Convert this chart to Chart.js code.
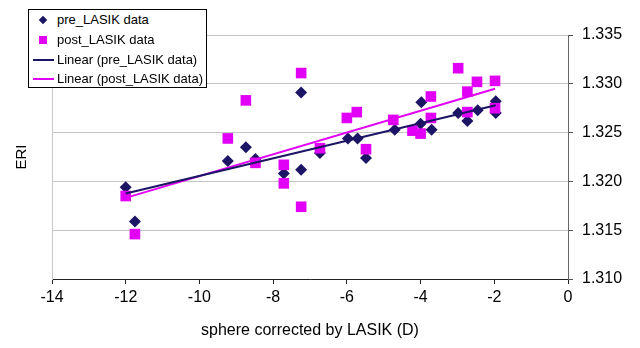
<!DOCTYPE html>
<html>
<head>
<meta charset="utf-8">
<script src="https://cdn.jsdelivr.net/npm/chart.js@4/dist/chart.umd.min.js"></script>
<style>
  body { margin: 0; background: #fff; }
  #wrap { position: relative; width: 640px; height: 348px; }
  #legend {
    position: absolute; left: 28px; top: 9px; width: 177px; height: 77px;
    border: 1px solid #000; background: #fff;
    font-family: "Liberation Sans", Arial, sans-serif; font-size: 13px; color: #000;
  }
  .row { position: absolute; left: 0; height: 20px; line-height: 20px; }
  .row span { position: absolute; left: 28px; white-space: nowrap; }
  .sym { position: absolute; }
</style>
</head>
<body>
<div id="wrap">
  <canvas id="chart" width="640" height="348"></canvas>
  <div id="legend">
    <div class="row" style="top:0px"><div class="sym" style="left:11px;top:7px;width:6px;height:6px;background:#1c1464;transform:rotate(45deg)"></div><span>pre_LASIK data</span></div>
    <div class="row" style="top:20px"><div class="sym" style="left:10px;top:6px;width:8px;height:8px;background:#e100f5"></div><span>post_LASIK data</span></div>
    <div class="row" style="top:40px"><div class="sym" style="left:4px;top:9px;width:21px;height:2px;background:#1c1464"></div><span>Linear (pre_LASIK data)</span></div>
    <div class="row" style="top:59px"><div class="sym" style="left:4px;top:9px;width:21px;height:2px;background:#e100f5"></div><span>Linear (post_LASIK data)</span></div>
  </div>
</div>
<script>
const NAVY = '#1c1464';
const MAGENTA = '#e100f5';

const preX = [-12.0, -11.75, -9.23, -8.74, -8.48, -7.71, -7.24, -7.24, -6.73, -5.97, -5.71,
  -5.48, -4.70, -4.0, -3.98, -3.70, -2.98, -2.73, -2.45, -1.96, -1.96];
const preY = [1.3194, 1.3159, 1.3221, 1.3235, 1.3223, 1.3208, 1.3291, 1.3212, 1.3229, 1.3244, 1.3244,
  1.3224, 1.3253, 1.3259, 1.3281, 1.3253, 1.3270, 1.3262, 1.3273, 1.3282, 1.3270];

const postX = [-12.0, -11.75, -9.23, -8.74, -8.48, -7.71, -7.71, -7.24, -7.24, -6.73, -6.0, -5.73,
  -5.48, -4.74, -4.22, -4.0, -3.72, -3.72, -2.98, -2.73, -2.73, -2.47, -1.98, -1.98];
const postY = [1.3185, 1.3146, 1.3244, 1.3283, 1.3219, 1.3217, 1.3198, 1.3311, 1.3174, 1.3234, 1.3265, 1.3271,
  1.3233, 1.3263, 1.3252, 1.3249, 1.3287, 1.3265, 1.3316, 1.3292, 1.3271, 1.3302, 1.3303, 1.3275];

const xTicks = [-14, -12, -10, -8, -6, -4, -2, 0];
const yTicks = [1.310, 1.315, 1.320, 1.325, 1.330, 1.335];

function points(xs, ys) {
  return xs.map((x, i) => ({ x, y: ys[i] }));
}

// least squares fit, drawn over the data's x range like Excel's trendline
function trend(xs, ys) {
  const n = xs.length;
  const mx = xs.reduce((a, b) => a + b, 0) / n;
  const my = ys.reduce((a, b) => a + b, 0) / n;
  let sxy = 0, sxx = 0;
  xs.forEach((x, i) => { sxy += (x - mx) * (ys[i] - my); sxx += (x - mx) * (x - mx); });
  const b = sxy / sxx;
  const a = my - b * mx;
  const x0 = Math.min(...xs), x1 = Math.max(...xs);
  return [{ x: x0, y: a + b * x0 }, { x: x1, y: a + b * x1 }];
}

const font = { family: '"Liberation Sans", Arial, sans-serif', size: 16 };

new Chart(document.getElementById('chart'), {
  type: 'scatter',
  data: {
    datasets: [
      { label: 'Linear (pre_LASIK data)', data: trend(preX, preY), showLine: true, borderColor: NAVY,
        borderWidth: 2, pointRadius: 0, yAxisID: 'y' },
      { label: 'Linear (post_LASIK data)', data: trend(postX, postY), showLine: true, borderColor: MAGENTA,
        borderWidth: 2, pointRadius: 0, yAxisID: 'y' },
      { label: 'post_LASIK data', data: points(postX, postY), pointStyle: 'rect', pointRadius: 7.5,
        backgroundColor: MAGENTA, borderColor: MAGENTA, borderWidth: 0, yAxisID: 'y' },
      { label: 'pre_LASIK data', data: points(preX, preY), pointStyle: 'rectRot', pointRadius: 6,
        backgroundColor: NAVY, borderColor: NAVY, borderWidth: 0, yAxisID: 'y' },
    ],
  },
  options: {
    responsive: false,
    animation: false,
    layout: { padding: { top: 35, left: 0, right: 0, bottom: 0 } },
    plugins: { legend: { display: false }, tooltip: { enabled: false } },
    scales: {
      x: {
        type: 'linear', min: -14, max: 0,
        afterBuildTicks: s => { s.ticks = xTicks.map(v => ({ value: v })); },
        ticks: { color: '#000', font, padding: 4, maxRotation: 0 },
        grid: { drawOnChartArea: false, drawTicks: true, tickLength: 5, color: '#222' },
        border: { color: '#222', width: 1 },
        title: { display: true, text: 'sphere corrected by LASIK (D)', color: '#000', font, padding: { bottom: 8 } },
        afterFit: s => { s.height = 69; },
      },
      yLeft: {
        type: 'linear', position: 'left',
        ticks: { display: false },
        grid: { display: false },
        border: { display: true, color: '#c8c8c8', width: 1 },
        title: { display: true, text: 'ERI', color: '#000', font: { ...font, size: 15 }, padding: { top: 13 } },
        afterFit: s => { s.width = 52; },
      },
      y: {
        type: 'linear', position: 'right', min: 1.310, max: 1.335,
        afterBuildTicks: s => { s.ticks = yTicks.map(v => ({ value: v })); },
        ticks: { color: '#000', font, padding: 9, callback: v => v.toFixed(3) },
        grid: { color: '#c4c4c4', tickColor: '#555', tickLength: 5 },
        border: { color: '#666', width: 1 },
        afterFit: s => { s.width = 72; },
      },
    },
  },
});
</script>
</body>
</html>
